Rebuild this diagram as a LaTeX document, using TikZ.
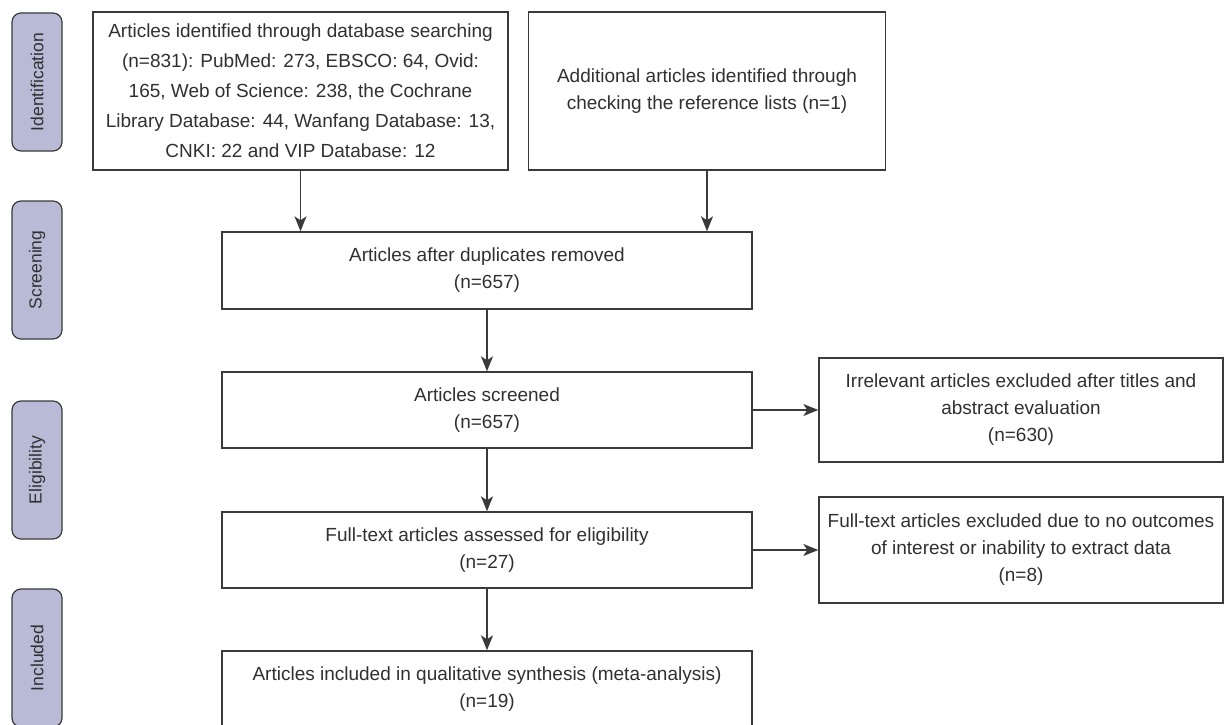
\documentclass[tikz,border=0pt]{standalone}
\usepackage{fontspec}
\setmainfont{Liberation Sans}
\usetikzlibrary{arrows.meta}
\definecolor{txt}{HTML}{303030}
\definecolor{edge}{HTML}{3A3A3A}
\definecolor{tabfill}{HTML}{B9BBD6}
\begin{document}
\begin{tikzpicture}[x=1pt,y=-1pt,
  box/.style={draw=edge, line width=1.4pt, align=center, inner sep=0pt, text=txt,
    font=\fontsize{19}{27}\selectfont},
  tab/.style={draw=edge, fill=tabfill, line width=1.2pt, rounded corners=9pt,
    rotate=90, minimum width=138pt, minimum height=50pt, inner sep=0pt, text=txt,
    font=\fontsize{17.5}{20}\selectfont},
  arr/.style={draw=edge, line width=1.4pt, -{Stealth[length=15pt,width=12pt,inset=4pt]}}]
\useasboundingbox (0,0) rectangle (1224,725);

% stage tabs
\node[tab] (t1) at (37,82) {Identification};
\node[tab] (t2) at (37,270) {Screening};
\node[tab] (t3) at (37,470) {Eligibility};
\node[tab] (t4) at (37,658) {Included};

% boxes
\node[box, minimum width=415pt, minimum height=158pt, font=\fontsize{19}{30}\selectfont] (b1) at (300.5,91)
  {Articles identified through database searching\\
   (n=831): PubMed: 273, EBSCO: 64, Ovid:\\
   165, Web of Science: 238, the Cochrane\\
   Library Database: 44, Wanfang Database: 13,\\
   CNKI: 22 and VIP Database: 12};
\node[box, minimum width=357pt, minimum height=158pt] (b2) at (707,91)
  {Additional articles identified through\\
   checking the reference lists (n=1)};
\node[box, minimum width=530pt, minimum height=77pt] (dup) at (487,270.5)
  {Articles after duplicates removed\\(n=657)};
\node[box, minimum width=530pt, minimum height=76pt] (scr) at (487,410)
  {Articles screened\\(n=657)};
\node[box, minimum width=530pt, minimum height=76pt] (ft) at (487,550)
  {Full-text articles assessed for eligibility\\(n=27)};
\node[box, minimum width=530pt, minimum height=76pt] (inc) at (487,689)
  {Articles included in qualitative synthesis (meta-analysis)\\(n=19)};
\node[box, minimum width=404pt, minimum height=104pt] (irr) at (1021,410)
  {Irrelevant articles excluded after titles and\\abstract evaluation\\(n=630)};
\node[box, minimum width=404pt, minimum height=106pt] (exc) at (1021,550)
  {Full-text articles excluded due to no outcomes\\of interest or inability to extract data\\(n=8)};

% connectors
\draw[arr] (b1.south) -- (b1.south |- dup.north);
\draw[arr] (b2.south) -- (b2.south |- dup.north);
\draw[arr] (dup) -- (scr);
\draw[arr] (scr) -- (ft);
\draw[arr] (ft) -- (inc);
\draw[arr] (scr) -- (irr);
\draw[arr] (ft) -- (exc);
\end{tikzpicture}
\end{document}
